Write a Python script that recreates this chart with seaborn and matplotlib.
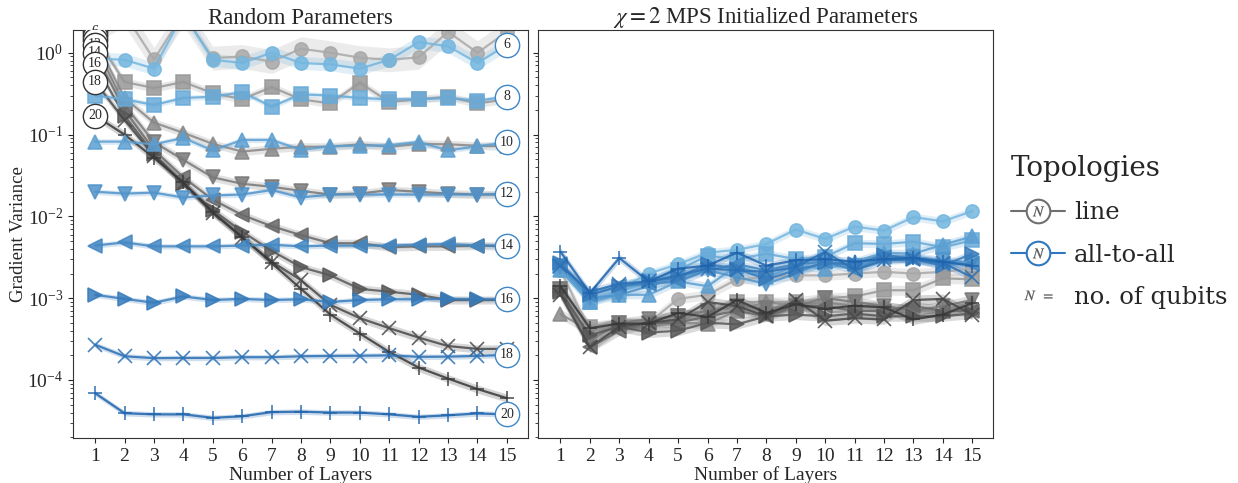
import numpy as np
import pandas as pd
import matplotlib
matplotlib.use("Agg")
import matplotlib.pyplot as plt
from matplotlib.lines import Line2D
from matplotlib.legend_handler import HandlerTuple
import seaborn as sns

#%%
# Data
layers = list(range(1, 16))
qubits = [6, 8, 10, 12, 14, 16, 18, 20]
markers = ["o", "s", "^", "v", "<", ">", "x", "+"]

# random parameters, line topology
rand_line = {
    6:  [1.8, 3.0, 0.83, 3.0, 0.86, 0.9, 0.78, 1.12, 1.0, 0.87, 0.82, 0.88, 1.8, 1.0, 1.8],
    8:  [1.6, 0.44, 0.37, 0.44, 0.32, 0.27, 0.38, 0.27, 0.24, 0.43, 0.25, 0.27, 0.29, 0.24, 0.27],
    10: [1.45, 0.28, 0.14, 0.105, 0.077, 0.062, 0.067, 0.071, 0.071, 0.076, 0.071, 0.077, 0.076, 0.073, 0.072],
    12: [1.25, 0.23, 0.081, 0.049, 0.030, 0.025, 0.023, 0.0205, 0.0185, 0.019, 0.021, 0.02, 0.019, 0.0185, 0.0185],
    14: [1.0, 0.2, 0.065, 0.03, 0.016, 0.0104, 0.0076, 0.0059, 0.0047, 0.0047, 0.0042, 0.0043, 0.0043, 0.0044, 0.0043],
    16: [0.73, 0.17, 0.058, 0.025, 0.012, 0.0065, 0.0038, 0.0024, 0.0019, 0.0013, 0.0012, 0.0011, 0.00095, 0.00095, 0.00095],
    18: [0.44, 0.15, 0.055, 0.025, 0.011, 0.0055, 0.0028, 0.00166, 0.00083, 0.00057, 0.00043, 0.00033, 0.00026, 0.00024, 0.00024],
    20: [0.17, 0.1, 0.052, 0.026, 0.0113, 0.0056, 0.0027, 0.0013, 0.00063, 0.00037, 0.00022, 0.000142, 0.000104, 0.0000775, 0.00006],
}

# random parameters, all-to-all topology
rand_all = {
    6:  [0.85, 0.82, 0.64, 3.0, 0.82, 0.75, 1.0, 0.75, 0.72, 0.64, 0.82, 1.35, 1.2, 0.75, 1.25],
    8:  [0.3, 0.27, 0.23, 0.28, 0.29, 0.33, 0.22, 0.31, 0.3, 0.28, 0.27, 0.27, 0.28, 0.26, 0.29],
    10: [0.082, 0.082, 0.076, 0.091, 0.064, 0.086, 0.086, 0.065, 0.072, 0.073, 0.074, 0.081, 0.064, 0.072, 0.08],
    12: [0.02, 0.019, 0.0195, 0.017, 0.018, 0.0185, 0.021, 0.017, 0.0185, 0.0185, 0.0185, 0.0185, 0.0185, 0.0185, 0.0188],
    14: [0.0044, 0.0048, 0.0043, 0.0043, 0.0043, 0.0044, 0.0045, 0.0043, 0.0044, 0.0044, 0.0044, 0.0045, 0.0046, 0.0044, 0.0044],
    16: [0.0011, 0.00098, 0.00088, 0.00105, 0.00095, 0.00098, 0.00095, 0.00097, 0.0009, 0.00095, 0.00097, 0.00097, 0.00098, 0.00097, 0.00097],
    18: [0.00027, 0.000195, 0.000185, 0.000186, 0.000186, 0.00019, 0.00019, 0.000195, 0.000197, 0.000198, 0.0002, 0.000192, 0.000193, 0.000197, 0.000203],
    20: [0.000069, 0.0000393, 0.000038, 0.000038, 0.0000345, 0.000036, 0.0000405, 0.000041, 0.00004, 0.00004, 0.000038, 0.0000355, 0.000037, 0.000039, 0.000038],
}

# MPS initialized, line topology
mps_line = {
    6:  [0.0022, 0.0004, 0.0005, 0.0005, 0.00098, 0.0011, 0.0017, 0.0018, 0.0019, 0.0019, 0.002, 0.0021, 0.002, 0.0021, 0.0023],
    8:  [0.0013, 0.00045, 0.0005, 0.0005, 0.0006, 0.0007, 0.0009, 0.0009, 0.0009, 0.001, 0.00105, 0.00125, 0.00125, 0.00175, 0.0017],
    10: [0.00064, 0.0004, 0.0005, 0.00045, 0.0005, 0.00049, 0.0007, 0.0009, 0.0008, 0.0009, 0.0008, 0.0008, 0.0007, 0.0007, 0.0009],
    12: [0.0013, 0.0003, 0.0005, 0.00055, 0.0006, 0.0007, 0.0008, 0.00075, 0.0008, 0.001, 0.0009, 0.0008, 0.0007, 0.0008, 0.00095],
    14: [0.0012, 0.00025, 0.0004, 0.0005, 0.0005, 0.0006, 0.0007, 0.0006, 0.0008, 0.0008, 0.0007, 0.0007, 0.0008, 0.0007, 0.0007],
    16: [0.0012, 0.00035, 0.00045, 0.00038, 0.0004, 0.0005, 0.00048, 0.0006, 0.00063, 0.0006, 0.00065, 0.0006, 0.0006, 0.0006, 0.00065],
    18: [0.0011, 0.00025, 0.00045, 0.0005, 0.00055, 0.0009, 0.0008, 0.0006, 0.00095, 0.00053, 0.00057, 0.00055, 0.00095, 0.00098, 0.00063],
    20: [0.0014, 0.00043, 0.00049, 0.00049, 0.00066, 0.00059, 0.00095, 0.00066, 0.00084, 0.00074, 0.00081, 0.00077, 0.00055, 0.00063, 0.00087],
}

# MPS initialized, all-to-all topology
mps_all = {
    6:  [0.0022, 0.0009, 0.0013, 0.002, 0.0026, 0.0036, 0.0039, 0.0046, 0.0069, 0.0053, 0.0075, 0.0067, 0.0098, 0.0087, 0.0116],
    8:  [0.0025, 0.0009, 0.0012, 0.0016, 0.0022, 0.0033, 0.003, 0.0035, 0.003, 0.0032, 0.0047, 0.0046, 0.0049, 0.0042, 0.0051],
    10: [0.0022, 0.0009, 0.0011, 0.0011, 0.0016, 0.0014, 0.0025, 0.0018, 0.0025, 0.0023, 0.0028, 0.0036, 0.0035, 0.0045, 0.0057],
    12: [0.0024, 0.001, 0.0011, 0.0014, 0.0018, 0.0022, 0.0018, 0.0015, 0.002, 0.0028, 0.0025, 0.003, 0.0032, 0.0029, 0.0027],
    14: [0.0026, 0.0011, 0.0014, 0.0015, 0.0016, 0.0022, 0.0026, 0.0022, 0.0026, 0.0028, 0.0022, 0.0032, 0.003, 0.0026, 0.0026],
    16: [0.0027, 0.0011, 0.0014, 0.0016, 0.0018, 0.0026, 0.0023, 0.0017, 0.0022, 0.0027, 0.0026, 0.0034, 0.003, 0.0025, 0.0035],
    18: [0.0025, 0.0012, 0.0015, 0.0016, 0.0019, 0.0023, 0.0022, 0.0021, 0.0024, 0.0037, 0.0022, 0.0029, 0.003, 0.0027, 0.0018],
    20: [0.0037, 0.00115, 0.0031, 0.0016, 0.0023, 0.0025, 0.0036, 0.0025, 0.0029, 0.003, 0.0028, 0.003, 0.0031, 0.0028, 0.0025],
}

#%%
# Style
sns.set_style("ticks")
plt.rcParams["font.family"] = ["Liberation Serif", "DejaVu Serif"]
plt.rcParams["mathtext.fontset"] = "stix"

grey_pal = sns.blend_palette(["#a8a8a8", "#383838"], len(qubits))
blue_pal = sns.blend_palette(["#74b6df", "#1f64ad"], len(qubits))
label_blue = "#3f86c6"


def draw(ax, d, pal, band, band6):
    for n, c, m in zip(qubits, pal, markers):
        v = np.array(d[n])
        sns.lineplot(x=layers, y=v, color=c, marker=m, markersize=9.5,
                     markeredgecolor=c, markeredgewidth=1.2,
                     linewidth=1.6, alpha=0.85, ax=ax)
        b = band6 if n == 6 else band
        ax.fill_between(layers, v / b, v * b, color=c, alpha=0.22, lw=0)


fig, (ax1, ax2) = plt.subplots(1, 2, figsize=(12.38, 4.83), dpi=100, sharey=True)
fig.subplots_adjust(left=0.059, right=0.802, top=0.938, bottom=0.093, wspace=0.024)

for ax in (ax1, ax2):
    ax.set_yscale("log")

draw(ax1, rand_line, grey_pal, 1.12, 1.4)
draw(ax1, rand_all, blue_pal, 1.08, 1.2)
draw(ax2, mps_line, grey_pal, 1.15, 1.15)
draw(ax2, mps_all, blue_pal, 1.12, 1.12)

# number labels, later ones stacked on top
for i, n in enumerate(qubits):
    z = 10 + 2 * i
    ax1.plot(1, rand_line[n][0], "o", ms=17.5, mfc="white", mec="#333333", mew=1.0, zorder=z)
    ax1.text(1, rand_line[n][0], str(n), ha="center", va="center", fontsize=10, zorder=z + 1)
    ax1.plot(15, rand_all[n][-1], "o", ms=17.5, mfc="white", mec=label_blue, mew=1.0,
             zorder=z, clip_on=False)
    ax1.text(15, rand_all[n][-1], str(n), ha="center", va="center", fontsize=10, zorder=z + 1)

for ax in (ax1, ax2):
    ax.set_xlim(0.25, 15.7)
    ax.set_xticks(layers)
    ax.tick_params(labelsize=14)
    ax.set_xlabel("Number of Layers", fontsize=14, labelpad=1)
    for s in ax.spines.values():
        s.set_linewidth(0.8)
        s.set_color("#333333")

ax1.set_ylim(1.95e-5, 1.9)
ax1.set_ylabel("Gradient Variance", fontsize=13.5, labelpad=0)
ax2.set_ylabel("")
ax2.tick_params(axis="y", labelleft=False)
ax1.set_title("Random Parameters", fontsize=16.5, pad=4)
ax2.set_title(r"$\chi = 2$ MPS Initialized Parameters", fontsize=16.5, pad=4)

#%%
# Legend
def topo_handle(c):
    ring = Line2D([], [], color=c, lw=1.5, marker="o", ms=17, mfc="white", mec=c, mew=1.5)
    letter = Line2D([], [], ls="none", marker="$N$", ms=8, mew=0.2, color="#555555")
    return (ring, letter)

handles = [topo_handle("#707070"), topo_handle("#2f78bf"),
           Line2D([], [], ls="none", marker=r"$N\ \ =$", ms=20, mew=0.2, color="#555555")]
labels = ["line", "all-to-all", "no. of qubits"]
leg = fig.legend(handles, labels, title="Topologies", loc="center left",
                 bbox_to_anchor=(0.799, 0.52), frameon=False,
                 prop=dict(family="DejaVu Serif", size=17.5),
                 title_fontproperties=dict(family="DejaVu Serif", size=20),
                 handler_map={tuple: HandlerTuple(ndivide=1, pad=0)},
                 handlelength=2.2, labelspacing=0.8, handletextpad=0.4)
leg._legend_box.align = "left"

fig.savefig("out.png", dpi=100)
